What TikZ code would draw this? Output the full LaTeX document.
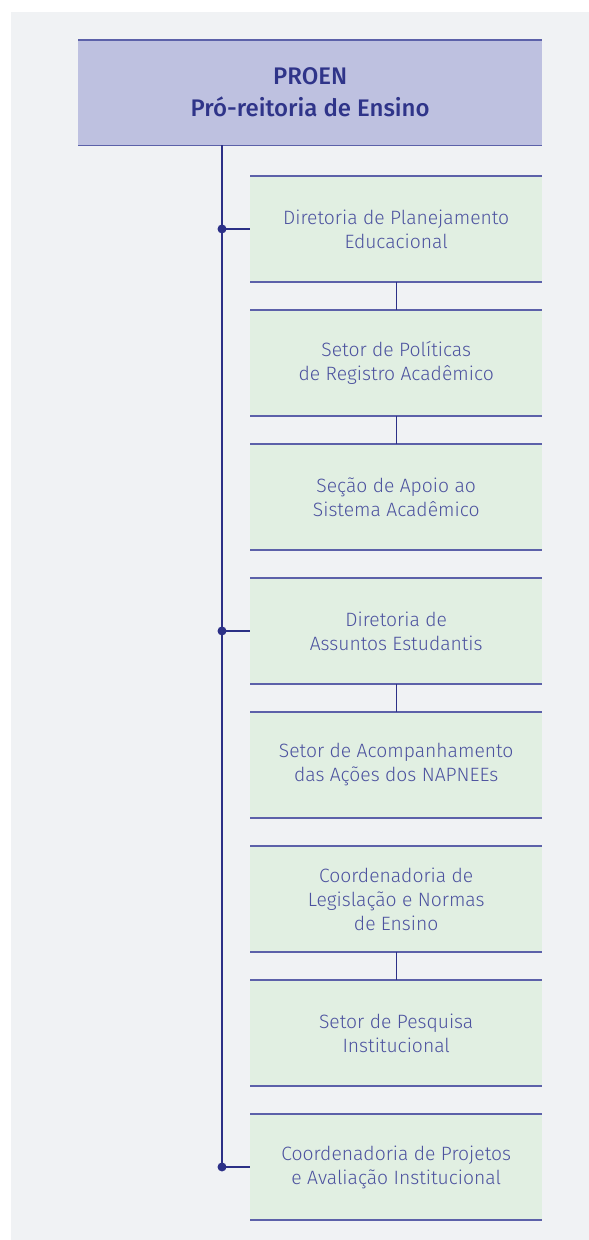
\documentclass[tikz,border=0pt]{standalone}
\usepackage{fontspec}
\setmainfont{Fira Sans}[UprightFont={* Light}, BoldFont={* Medium}]
\definecolor{pagebg}{HTML}{F0F2F4}
\definecolor{headfill}{HTML}{BEC1E0}
\definecolor{boxfill}{HTML}{E1EFE2}
\definecolor{edgeline}{HTML}{5C61A9}
\definecolor{linkline}{HTML}{2C3087}
\definecolor{headtext}{HTML}{2F3489}
\definecolor{boxtext}{HTML}{4C529F}
\tikzset{
  unitbox/.style={rectangle, fill=boxfill, inner sep=0pt, minimum width=292pt, minimum height=105.5pt, anchor=north west, align=center, text=boxtext, font=\fontsize{19.3}{24}\selectfont},
  headbox/.style={rectangle, fill=headfill, inner sep=0pt, minimum width=464pt, minimum height=105pt, anchor=north west, align=center, text=headtext, font=\bfseries\fontsize{24}{32}\selectfont},
  edge/.style={draw=edgeline, line width=1.4pt},
  link/.style={draw=linkline, line width=1.3pt},
  joint/.style={circle, fill=linkline, inner sep=0pt, minimum size=9pt}
}
\begin{document}
\begin{tikzpicture}[x=1pt,y=1pt]
\useasboundingbox (0,0) rectangle (589,-1240);
\fill[white] (0,0) rectangle (589,-1240);
\fill[pagebg] (11,-12) rectangle (589,-1240);
% head
\node[headbox] (proen) at (78,-40) {PROEN\\Pró-reitoria de Ensino};
\draw[edge] (proen.north west) -- (proen.north east);
\draw[edge] (proen.south west) -- (proen.south east);
% boxes
\node[unitbox] (b1) at (250,-176) {Diretoria de Planejamento\\Educacional};
\node[unitbox] (b2) at (250,-310) {Setor de Políticas\\de Registro Acadêmico};
\node[unitbox] (b3) at (250,-444) {Seção de Apoio ao\\Sistema Acadêmico};
\node[unitbox] (b4) at (250,-578) {Diretoria de\\Assuntos Estudantis};
\node[unitbox] (b5) at (250,-712) {Setor de Acompanhamento\\das Ações dos NAPNEEs};
\node[unitbox] (b6) at (250,-846) {Coordenadoria de\\Legislação e Normas\\de Ensino};
\node[unitbox] (b7) at (250,-980) {Setor de Pesquisa\\Institucional};
\node[unitbox] (b8) at (250,-1114) {Coordenadoria de Projetos\\e Avaliação Institucional};
\foreach \b in {b1,b2,b3,b4,b5,b6,b7,b8}{
  \draw[edge] (\b.north west) -- (\b.north east);
  \draw[edge] (\b.south west) -- (\b.south east);
}
% connectors between boxes
\draw[link] (b1.south) -- (b2.north);
\draw[link] (b2.south) -- (b3.north);
\draw[link] (b4.south) -- (b5.north);
\draw[link] (b6.south) -- (b7.north);
% spine
\coordinate (spinetop) at (222,-145);
\node[joint] (d1) at (222,0 |- b1.west) {};
\node[joint] (d4) at (222,0 |- b4.west) {};
\node[joint] (d8) at (222,0 |- b8.west) {};
\draw[link] (spinetop) -- (d8.center);
\draw[link] (d1.center) -- (b1.west);
\draw[link] (d4.center) -- (b4.west);
\draw[link] (d8.center) -- (b8.west);
\end{tikzpicture}
\end{document}
